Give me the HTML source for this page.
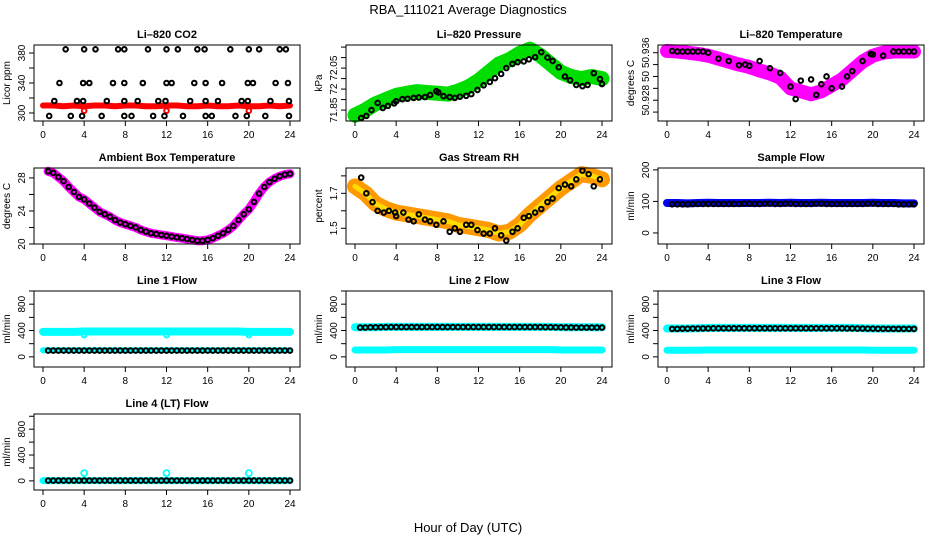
<!DOCTYPE html>
<html><head><meta charset="utf-8">
<style>
html,body{margin:0;padding:0;background:#fff;}
svg{display:block;font-family:"Liberation Sans",sans-serif;}
</style></head>
<body>
<svg id="chart" width="936" height="540" viewBox="0 0 936 540">
<text x="468" y="14" text-anchor="middle" font-size="13">RBA_111021  Average Diagnostics</text>
<text x="468" y="532" text-anchor="middle" font-size="13">Hour of Day (UTC)</text>
</svg>
<script>
// ---------- data ----------
const co2Hi = [2.2,4,5.1,7.3,7.9,10.2,12,13.1,15,15.7,18.2,20,21,23,23.6];
const co2Mid = [1.6,3.9,4.5,6.8,7.9,9.7,12,12.5,14.7,15.8,17.4,19.9,20.4,22.6,23.8];
const co2Lo = [1.1,3.3,3.9,6.2,7.9,9.2,11.2,11.9,14.3,15.8,17,19.3,19.9,22.1,23.9];
const co2Bot = [0.6,2.7,3.8,5.7,7.9,8.6,10.7,11.8,13.6,15.8,16.4,18.7,19.8,21.6,23.9];
const co2Raw = [310,310,309,310,309,310,310,309,310,310,309,309,310,310,309,309,310,309,309,310,309,309,310,309,310];
const co2RawOut = [4,12,20];

const presHours = [0.6,1.1,1.6,2.2,2.7,3.2,3.8,4,4.6,5.1,5.7,6.2,6.8,7.3,7.9,8.1,8.6,9.2,9.7,10.2,10.8,11.3,11.9,12.5,13.1,13.6,14.2,14.7,15.3,15.8,16.4,16.9,17.5,18.1,18.7,19.2,19.8,20.4,20.9,21.5,22.1,22.6,23.2,23.8,24];
const presAvg = [71.931,71.936,71.950,71.967,71.955,71.960,71.966,71.971,71.976,71.977,71.979,71.980,71.981,71.986,71.995,71.992,71.983,71.981,71.979,71.982,71.984,71.988,71.998,72.009,72.017,72.026,72.036,72.050,72.060,72.064,72.066,72.071,72.076,72.088,72.075,72.067,72.052,72.030,72.021,72.010,72.007,72.010,72.038,72.024,72.012];
const presRaw = [71.938,71.950,71.965,71.975,71.985,71.990,71.994,71.992,71.990,71.988,71.995,72.005,72.020,72.040,72.060,72.070,72.085,72.095,72.080,72.060,72.040,72.030,72.025,72.030,72.025];

const tempHours = [0.5,1,1.5,2,2.5,3,3.5,4,5,6,7,7.6,8,9,10,11,12,12.5,13,14,14.5,15,15.5,16,17,17.5,18,19,19.8,20,21,22,22.5,23,23.5,24];
const tempAvg = [50.9363,50.9362,50.9362,50.9362,50.9362,50.9362,50.9362,50.9360,50.9350,50.9346,50.9339,50.9340,50.9338,50.9346,50.9334,50.9326,50.9303,50.9282,50.9313,50.9315,50.9289,50.9307,50.9320,50.9300,50.9303,50.9320,50.9329,50.9346,50.9358,50.9357,50.9355,50.9362,50.9362,50.9362,50.9362,50.9362];
const tempRaw = [50.9363,50.9362,50.9360,50.9358,50.9355,50.9350,50.9345,50.9340,50.9336,50.9330,50.9325,50.9318,50.9300,50.9295,50.9290,50.9295,50.9305,50.9315,50.9330,50.9345,50.9355,50.9360,50.9362,50.9362,50.9362];

const ambHours = [0.5,1,1.5,2,2.5,3,3.5,4,4.5,5,5.5,6,6.5,7,7.5,8,8.5,9,9.5,10,10.5,11,11.5,12,12.5,13,13.5,14,14.5,15,15.5,16,16.5,17,17.5,18,18.5,19,19.5,20,20.5,21,21.5,22,22.5,23,23.5,24];
const ambAvg = [28.8,28.6,28.1,27.6,26.9,26.3,25.7,25.4,24.9,24.4,23.9,23.6,23.3,22.9,22.6,22.4,22.2,22.0,21.7,21.5,21.3,21.2,21.1,21.0,20.9,20.8,20.7,20.6,20.5,20.4,20.4,20.5,20.7,21.0,21.3,21.7,22.2,22.9,23.6,24.2,25.1,26.1,26.9,27.5,27.9,28.2,28.4,28.5];

const rhHours = [0.6,1.1,1.7,2.2,2.8,3.3,3.9,4,4.7,5.2,5.7,6.2,6.8,7.3,7.9,8.6,9.2,9.7,10.2,10.8,11.3,11.9,12.5,13.1,13.6,14.2,14.7,15.3,15.8,16.4,16.9,17.5,18.1,18.7,19.2,19.8,20.4,21,21.5,22.1,22.7,23.2,23.8];
const rhAvg = [1.79,1.70,1.65,1.60,1.59,1.60,1.59,1.57,1.59,1.55,1.54,1.58,1.55,1.54,1.52,1.54,1.48,1.50,1.48,1.52,1.52,1.49,1.47,1.47,1.50,1.46,1.43,1.48,1.50,1.56,1.57,1.59,1.61,1.65,1.67,1.73,1.75,1.74,1.78,1.83,1.81,1.74,1.78];
const rhRaw = [1.74,1.70,1.64,1.61,1.59,1.58,1.57,1.56,1.55,1.54,1.52,1.51,1.50,1.49,1.47,1.48,1.52,1.58,1.63,1.68,1.73,1.77,1.81,1.80,1.78];

const sampleRaw = [95,95,94,95,96,95,95,95,95,95,96,95,96,95,95,96,95,95,95,95,96,95,95,94,94];
const sampleAvg = [91,91,91,92,92,92,92,92,93,92,93,92,93,92,92,93,92,92,92,92,93,92,92,91,91];
const line1Hi = [380,380,380,380,385,385,385,385,385,385,385,385,385,385,385,385,385,385,385,385,380,380,380,380,380];
const line1Lo = [100,100,100,100,100,100,100,100,100,100,100,100,100,100,100,100,100,100,100,100,100,100,100,100,100];
const line1Avg = [95,95,95,95,95,95,95,95,95,95,95,95,95,95,95,95,95,95,95,95,95,95,95,95,95];
const line2Hi = [450,450,450,455,455,455,455,455,455,455,455,455,455,455,455,455,455,455,455,455,450,450,450,450,450];
const line2Lo = [105,105,105,105,110,110,110,110,110,110,110,110,110,110,110,110,110,110,110,110,105,105,105,105,105];
const line2Avg = [445,445,448,450,452,452,452,452,452,452,452,452,452,452,452,452,452,452,452,450,448,446,445,445,445];
const line3Hi = [430,430,430,435,440,440,440,440,440,440,440,440,440,440,440,440,440,440,440,435,430,430,430,430,430];
const line3Lo = [100,100,100,100,105,105,105,105,105,105,105,105,105,105,105,105,105,105,105,105,100,100,100,100,100];
const line3Avg = [425,425,428,430,432,433,433,433,433,433,433,433,433,433,433,433,433,433,432,430,428,426,425,425,425];
const line4Raw = [5,5,5,5,5,5,5,5,5,5,5,5,5,5,5,5,5,5,5,5,5,5,5,5,5];
const line4Avg = [5,5,5,5,5,5,5,5,5,5,5,5,5,5,5,5,5,5,5,5,5,5,5,5,5];
const line4Out = [120,120,120];
const outHours = [4,12,20];
const xTicks = [0,4,8,12,16,20,24];

// ---------- drawing ----------
const NS = 'http://www.w3.org/2000/svg';
const svg = document.getElementById('chart');
function mk(tag, attrs, parent){ const e=document.createElementNS(NS,tag); for(const k in attrs) e.setAttribute(k,attrs[k]); (parent||svg).appendChild(e); return e; }

function makePanel(col,row,title,ylab,ymin,ymax,ticks,tickLabels,name){
  const L=34+312*col, R=300+312*col, T=45+123*row, B=121+123*row;
  const xs=h=>43+312*col+(h/24)*247;
  const ys=v=>B-(v-ymin)/(ymax-ymin)*(B-T);
  const g=mk('g',{});
  
  
  const t=mk('text',{x:(L+R)/2,y:T-7,'text-anchor':'middle','font-size':'11','font-weight':'bold'},g);
  t.textContent=title;
  
  
  const yl=mk('text',{x:0,y:0,'text-anchor':'middle','font-size':'10',transform:`translate(${L-24},${(T+B)/2}) rotate(-90)`},g);
  yl.textContent=ylab;
  
  
  const plot=mk('g',{},g);
  
  
  const ax=mk('g',{stroke:'#000','stroke-width':'1'},g);
  
  
  mk('rect',{x:L,y:T,width:R-L,height:B-T,fill:'none'},ax);
  mk('line',{x1:xs(0),x2:xs(24),y1:B,y2:B},ax);
  xTicks.forEach(v=>{
    mk('line',{x1:xs(v),x2:xs(v),y1:B,y2:B+5},ax);
    const tl=mk('text',{x:xs(v),y:B+17,'text-anchor':'middle','font-size':'10',stroke:'none'},ax);
    tl.textContent=v;
    
    
  });
  ticks.forEach((v,i)=>{
    mk('line',{x1:L-5,x2:L,y1:ys(v),y2:ys(v)},ax);
    if(tickLabels[i]){
      const tl=mk('text',{x:0,y:0,'text-anchor':'middle','font-size':'10',stroke:'none',transform:`translate(${L-9},${ys(v)}) rotate(-90)`},ax);
      tl.textContent=tickLabels[i];
      
      
    }
  });
  return {xs,ys,plot};
}
function band(p,hours,vals,color,w,name){
  const pts=hours.map((h,i)=>p.xs(h)+','+p.ys(vals[i])).join(' ');
  const e=mk('polyline',{points:pts,fill:'none',stroke:color,'stroke-width':w,'stroke-linejoin':'round','stroke-linecap':'round'},p.plot);
  
  
}
function dots(p,hours,vals,color,name,r,sw){
  hours.forEach((h,i)=>{
    const c=mk('circle',{cx:p.xs(h),cy:p.ys(vals[i]),r:r||2.3,fill:'none',stroke:color,'stroke-width':sw||2},p.plot);
    
    
  });
}
const hourly=[]; for(let i=0;i<25;i++) hourly.push(i);
const dense=[]; for(let i=0;i<48;i++) dense.push(0.5+i*0.5);
function expand(arr){ return dense.map(h=>arr[Math.min(24,Math.round(h))]); }

// Panel 1: CO2
let p=makePanel(0,0,'Li\u2013820 CO2','Licor ppm',289.3,390.7,[300,320,340,360,380],['300','','340','','380'],'co2');
band(p,hourly,co2Raw,'#ff0000',6,'co2-raw-band');
dots(p,co2RawOut,[303,303,303],'#ff0000','co2-raw-outlier');
dots(p,co2Hi,co2Hi.map(()=>385),'#000','co2-avg-point');
dots(p,co2Mid,co2Mid.map(()=>340),'#000','co2-avg-point');
dots(p,co2Lo,co2Lo.map(()=>316),'#000','co2-avg-point');
dots(p,co2Bot,co2Bot.map(()=>296),'#000','co2-avg-point');

// Panel 2: Pressure
p=makePanel(1,0,'Li\u2013820 Pressure','kPa',71.924,72.105,[71.95,71.975,72.0,72.025,72.05,72.075,72.1],['71.85','','72','','72.05','',''],'pressure');
band(p,hourly,presRaw,'#00dd00',15,'pressure-raw-band');
dots(p,presHours,presAvg,'#000','pressure-avg-point');

// Panel 3: Temperature
p=makePanel(2,0,'Li\u2013820 Temperature','degrees C',50.9245,50.9373,[50.926,50.928,50.930,50.932,50.934,50.936],['','50.928','','50','','50.936'],'temperature');
band(p,hourly,tempRaw,'#ff00ff',14,'temperature-raw-band');
dots(p,tempHours,tempAvg,'#000','temperature-avg-point');

// Panel 4: Ambient
p=makePanel(0,1,'Ambient Box Temperature','degrees C',20,29.2,[20,22,24,26,28],['20','','24','','28'],'ambient');
band(p,ambHours,ambAvg,'#ff00ff',9,'ambient-raw-band');
dots(p,ambHours,ambAvg,'#000','ambient-avg-point');

// Panel 5: RH
p=makePanel(1,1,'Gas Stream RH','percent',1.41,1.845,[1.5,1.6,1.7,1.8],['1.5','','1.7',''],'rh');
band(p,hourly,rhRaw,'#ff9900',16,'rh-raw-band');
band(p,hourly,rhRaw,'#ffdd00',5,'rh-raw-band-inner');
dots(p,rhHours,rhAvg,'#000','rh-avg-point');

// Panel 6: Sample flow
p=makePanel(2,1,'Sample Flow','ml/min',-35,206,[0,100,200],['0','100','200'],'sample-flow');
band(p,hourly,sampleRaw,'#0000ee',8,'sample-flow-raw-band');
dots(p,dense,expand(sampleAvg),'#000','sample-flow-avg-point');

const fT=[0,200,400,600,800,1000], fL=['0','','400','','800',''];
// Line 1
p=makePanel(0,2,'Line 1 Flow','ml/min',-154,1000,fT,fL,'line1-flow');
band(p,hourly,line1Hi,'#00ffff',8,'line1-raw-high-band');
band(p,hourly,line1Lo,'#00ffff',6,'line1-raw-low-band');
dots(p,outHours,[330,330,330],'#00ffff','line1-raw-outlier');
dots(p,dense,expand(line1Avg),'#000','line1-avg-point');
// Line 2
p=makePanel(1,2,'Line 2 Flow','ml/min',-154,1000,fT,fL,'line2-flow');
band(p,hourly,line2Hi,'#00ffff',8,'line2-raw-high-band');
band(p,hourly,line2Lo,'#00ffff',7,'line2-raw-low-band');
dots(p,dense,expand(line2Avg),'#000','line2-avg-point');
// Line 3
p=makePanel(2,2,'Line 3 Flow','ml/min',-154,1000,fT,fL,'line3-flow');
band(p,hourly,line3Hi,'#00ffff',8,'line3-raw-high-band');
band(p,hourly,line3Lo,'#00ffff',7,'line3-raw-low-band');
dots(p,dense,expand(line3Avg),'#000','line3-avg-point');
// Line 4
p=makePanel(0,3,'Line 4 (LT) Flow','ml/min',-141,1035,fT,fL,'line4-flow');
band(p,hourly,line4Raw,'#00ffff',7,'line4-raw-band');
dots(p,outHours,line4Out,'#00ffff','line4-raw-outlier',3,1.8);
dots(p,dense,expand(line4Avg),'#000','line4-avg-point');
</script>
</body></html>
